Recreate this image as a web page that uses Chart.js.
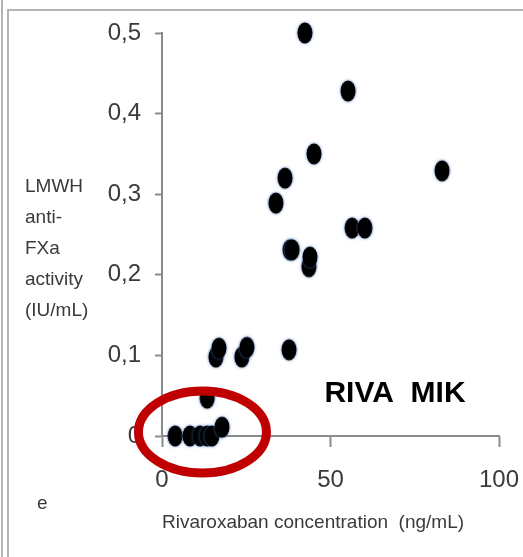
<!DOCTYPE html>
<html>
<head>
<meta charset="utf-8">
<script src="https://cdn.jsdelivr.net/npm/chart.js@4/dist/chart.umd.min.js"></script>
<style>
  html, body { margin: 0; padding: 0; background: #fff; }
  #wrap { width: 523px; height: 557px; }
</style>
</head>
<body>
<div id="wrap"><canvas id="riva" width="523" height="557"></canvas></div>
<script>
// values
const rivaroxaban = [3.9, 8.3, 11.3, 13.4, 14.8, 17.8, 13.4, 16.0, 16.9, 23.7, 25.2, 37.7,
    33.8, 36.5, 38.0, 38.6, 43.6, 43.9, 56.4, 60.2, 42.4, 55.2, 45.1, 83.1];
const antiXa = [0, 0, 0, 0, 0, 0.011, 0.047, 0.098, 0.109, 0.098, 0.110, 0.107,
    0.289, 0.320, 0.231, 0.231, 0.210, 0.222, 0.258, 0.258, 0.500, 0.428, 0.350, 0.329];
const xTicks = [0, 50, 100];
const yTicks = [0, 0.1, 0.2, 0.3, 0.4, 0.5];
const yTitleLines = ['LMWH', 'anti-', 'FXa', 'activity', '(IU/mL)'];
const xTitle = 'Rivaroxaban concentration  (ng/mL)';
const tagText = 'RIVA  MIK';
const circled = { x: 12, y: 0.005 };   // centre of the red ring, in data units

const textColor = '#3a3a3a';
const axisColor = '#8c8c8c';
const tickFont = "'Liberation Sans Narrow', 'Liberation Sans', sans-serif";
const labelFont = "'Liberation Sans', Arial, sans-serif";

function makeDot() {
    const c = document.createElement('canvas');
    c.width = 22; c.height = 28;
    const g = c.getContext('2d');
    g.shadowColor = 'rgba(70,120,190,0.9)';
    g.shadowBlur = 3;
    g.fillStyle = '#000';
    g.beginPath();
    g.ellipse(11, 14, 7.5, 10.5, 0, 0, Math.PI * 2);
    g.fill();
    return c;
}

const decorations = {
    id: 'decorations',
    beforeDraw(chart) {
        const ctx = chart.ctx;
        ctx.save();
        ctx.fillStyle = '#fff';
        ctx.fillRect(0, 0, chart.width, chart.height);
        ctx.strokeStyle = '#b4b4b4';
        ctx.lineWidth = 2;
        ctx.beginPath();
        ctx.moveTo(2, 0); ctx.lineTo(2, chart.height);
        ctx.moveTo(8, chart.height); ctx.lineTo(8, 10); ctx.lineTo(chart.width, 10);
        ctx.stroke();
        ctx.restore();
    },
    afterDraw(chart) {
        const ctx = chart.ctx;
        const xs = chart.scales.x, ys = chart.scales.y;
        ctx.save();
        // y title, written across in short lines
        ctx.fillStyle = textColor;
        ctx.font = '19px ' + labelFont;
        ctx.textAlign = 'left';
        ctx.textBaseline = 'middle';
        yTitleLines.forEach((t, i) => ctx.fillText(t, 25, 187 + i * 31));
        ctx.fillText('e', 37, 504);
        // tag
        ctx.fillStyle = '#000';
        ctx.font = 'bold 30px ' + labelFont;
        ctx.textAlign = 'center';
        ctx.fillText(tagText, 395, 394);
        // red ring
        ctx.strokeStyle = '#c00000';
        ctx.lineWidth = 9;
        ctx.beginPath();
        ctx.ellipse(xs.getPixelForValue(circled.x), ys.getPixelForValue(circled.y), 64, 41, 0, 0, Math.PI * 2);
        ctx.stroke();
        ctx.restore();
    }
};

new Chart(document.getElementById('riva'), {
    type: 'scatter',
    data: {
        datasets: [{
            data: rivaroxaban.map((x, i) => ({ x: x, y: antiXa[i] })),
            pointStyle: makeDot(),
            pointRadius: 10,
            clip: false
        }]
    },
    options: {
        responsive: false,
        animation: false,
        devicePixelRatio: 1,
        layout: { padding: { left: 0, top: 33, right: 24, bottom: 0 } },
        plugins: { legend: { display: false }, tooltip: { enabled: false } },
        scales: {
            x: {
                type: 'linear', min: 0, max: 100,
                afterBuildTicks: s => { s.ticks = xTicks.map(v => ({ value: v })); },
                afterFit: s => { s.height = 121; s.paddingLeft = 0; s.paddingRight = 0; },
                grid: { drawOnChartArea: false, tickLength: 11, color: axisColor, tickWidth: 2 },
                border: { color: axisColor, width: 2 },
                ticks: { color: textColor, font: { family: tickFont, size: 24 }, padding: 19, maxRotation: 0 },
                title: {
                    display: true, text: xTitle, align: 'start', color: textColor,
                    font: { family: labelFont, size: 19 }, padding: { top: 0, bottom: 23 }
                }
            },
            y: {
                type: 'linear', min: 0, max: 0.5,
                afterBuildTicks: s => { s.ticks = yTicks.map(v => ({ value: v })); },
                afterFit: s => { s.width = 162; s.paddingTop = 0; s.paddingBottom = 0; },
                grid: { drawOnChartArea: false, tickLength: 7, color: axisColor, tickWidth: 2 },
                border: { color: axisColor, width: 2 },
                ticks: {
                    color: textColor, font: { family: tickFont, size: 24 }, padding: 14,
                    callback: v => String(+v.toFixed(1)).replace('.', ',')
                }
            }
        }
    },
    plugins: [decorations]
});
</script>
</body>
</html>
